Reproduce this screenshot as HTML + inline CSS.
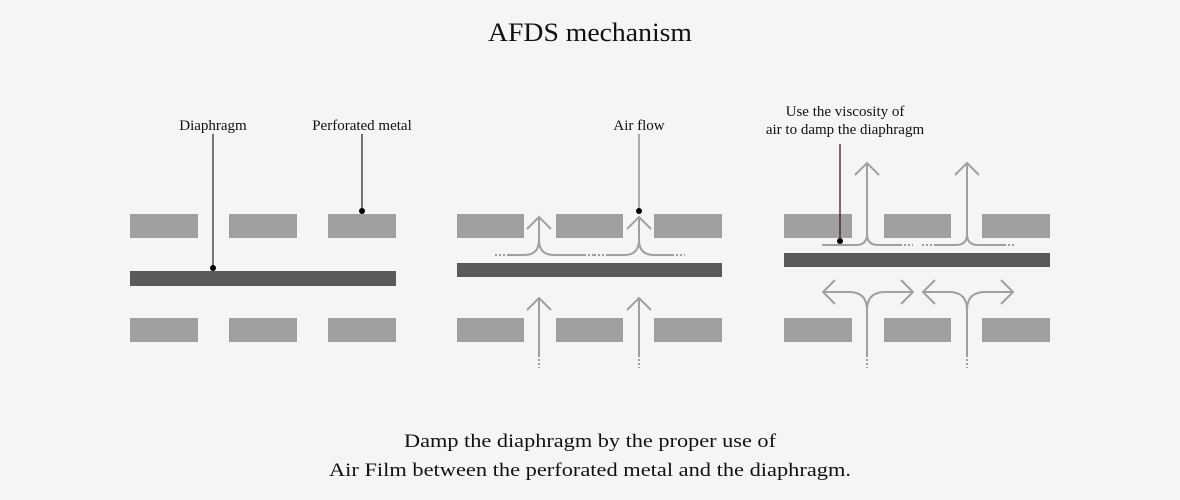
<!DOCTYPE html>
<html><head><meta charset="utf-8"><style>
html,body{margin:0;padding:0;background:#f5f5f5;}
svg{display:block;}
text{font-family:"Liberation Serif",serif;fill:#111;}
</style></head><body>
<svg width="1180" height="500" viewBox="0 0 1180 500" xmlns="http://www.w3.org/2000/svg">
<rect width="1180" height="500" fill="#f5f5f5"/>
<text x="590" y="41" font-size="26" text-anchor="middle" textLength="204" lengthAdjust="spacingAndGlyphs">AFDS mechanism</text>
<text x="590" y="447" font-size="19" text-anchor="middle" textLength="372" lengthAdjust="spacingAndGlyphs">Damp the diaphragm by the proper use of</text>
<text x="590" y="476" font-size="19" text-anchor="middle" textLength="522" lengthAdjust="spacingAndGlyphs">Air Film between the perforated metal and the diaphragm.</text>

<g fill="#a0a0a0">
<!-- panel 1 -->
<rect x="130" y="214" width="68" height="24"/><rect x="229" y="214" width="68" height="24"/><rect x="328" y="214" width="68" height="24"/>
<rect x="130" y="318" width="68" height="24"/><rect x="229" y="318" width="68" height="24"/><rect x="328" y="318" width="68" height="24"/>
<!-- panel 2 -->
<rect x="457" y="214" width="67" height="24"/><rect x="556" y="214" width="67" height="24"/><rect x="654" y="214" width="68" height="24"/>
<rect x="457" y="318" width="67" height="24"/><rect x="556" y="318" width="67" height="24"/><rect x="654" y="318" width="68" height="24"/>
<!-- panel 3 -->
<rect x="784" y="214" width="68" height="24"/><rect x="884" y="214" width="67" height="24"/><rect x="982" y="214" width="68" height="24"/>
<rect x="784" y="318" width="68" height="24"/><rect x="884" y="318" width="67" height="24"/><rect x="982" y="318" width="68" height="24"/>
</g>
<g fill="#5a5a5a">
<rect x="130" y="271" width="266" height="15"/>
<rect x="457" y="263" width="265" height="14"/>
<rect x="784" y="253" width="266" height="14"/>
</g>

<text x="213" y="130" font-size="15" text-anchor="middle">Diaphragm</text>
<text x="362" y="130" font-size="15" text-anchor="middle">Perforated metal</text>
<text x="639" y="130" font-size="15" text-anchor="middle">Air flow</text>
<text x="845" y="116" font-size="15" text-anchor="middle">Use the viscosity of</text>
<text x="845" y="134" font-size="15" text-anchor="middle">air to damp the diaphragm</text>

<g stroke="#a0a0a0" stroke-width="2" fill="none">
<!-- panel 2 arrows -->
<path d="M539 298 V355 M527 310 L539 298 L551 310"/>
<path d="M639 298 V355 M627 310 L639 298 L651 310"/>
<path d="M539 217 V240 Q539 255 524 255 H507 M539 240 Q539 255 554 255 H584 M527 229 L539 217 L551 229"/>
<path d="M639 217 V240 Q639 255 624 255 H606 M639 240 Q639 255 654 255 H672 M627 229 L639 217 L651 229"/>
<!-- panel 3 arrows -->
<path d="M867 163 V234 Q867 245 856 245 H823 M867 234 Q867 245 878 245 H900 M855 175 L867 163 L879 175"/>
<path d="M967 163 V234 Q967 245 956 245 H934 M967 234 Q967 245 978 245 H1004 M955 175 L967 163 L979 175"/>
<path d="M867 355 V310 Q867 292 849 292 H823 M867 310 Q867 292 885 292 H913 M835 280 L823 292 L835 304 M901 280 L913 292 L901 304"/>
<path d="M967 355 V310 Q967 292 949 292 H923 M967 310 Q967 292 985 292 H1013 M935 280 L923 292 L935 304 M1001 280 L1013 292 L1001 304"/>
</g>
<g stroke="#a0a0a0" stroke-width="2" stroke-dasharray="2 2" fill="none">
<path d="M539 355 V368 M639 355 V368 M867 355 V368 M967 355 V368"/>
<path d="M495 255 H507 M584 255 H596 M594 255 H606 M672 255 H685"/>
<path d="M822 245 H834 M900 245 H913 M922 245 H934 M1004 245 H1016"/>
</g>

<g stroke="#222" stroke-width="1.2">
<line x1="213" y1="134" x2="213" y2="268"/>
<line x1="362" y1="134" x2="362" y2="211"/>
<line x1="639" y1="134" x2="639" y2="211" stroke="#777"/>
<line x1="840" y1="144" x2="840" y2="241" stroke="#2a1010"/>
</g>
<g fill="#000">
<circle cx="213" cy="268" r="3"/><circle cx="362" cy="211" r="3"/><circle cx="639" cy="211" r="3"/><circle cx="840" cy="241" r="3"/>
</g>
</svg>
</body></html>
